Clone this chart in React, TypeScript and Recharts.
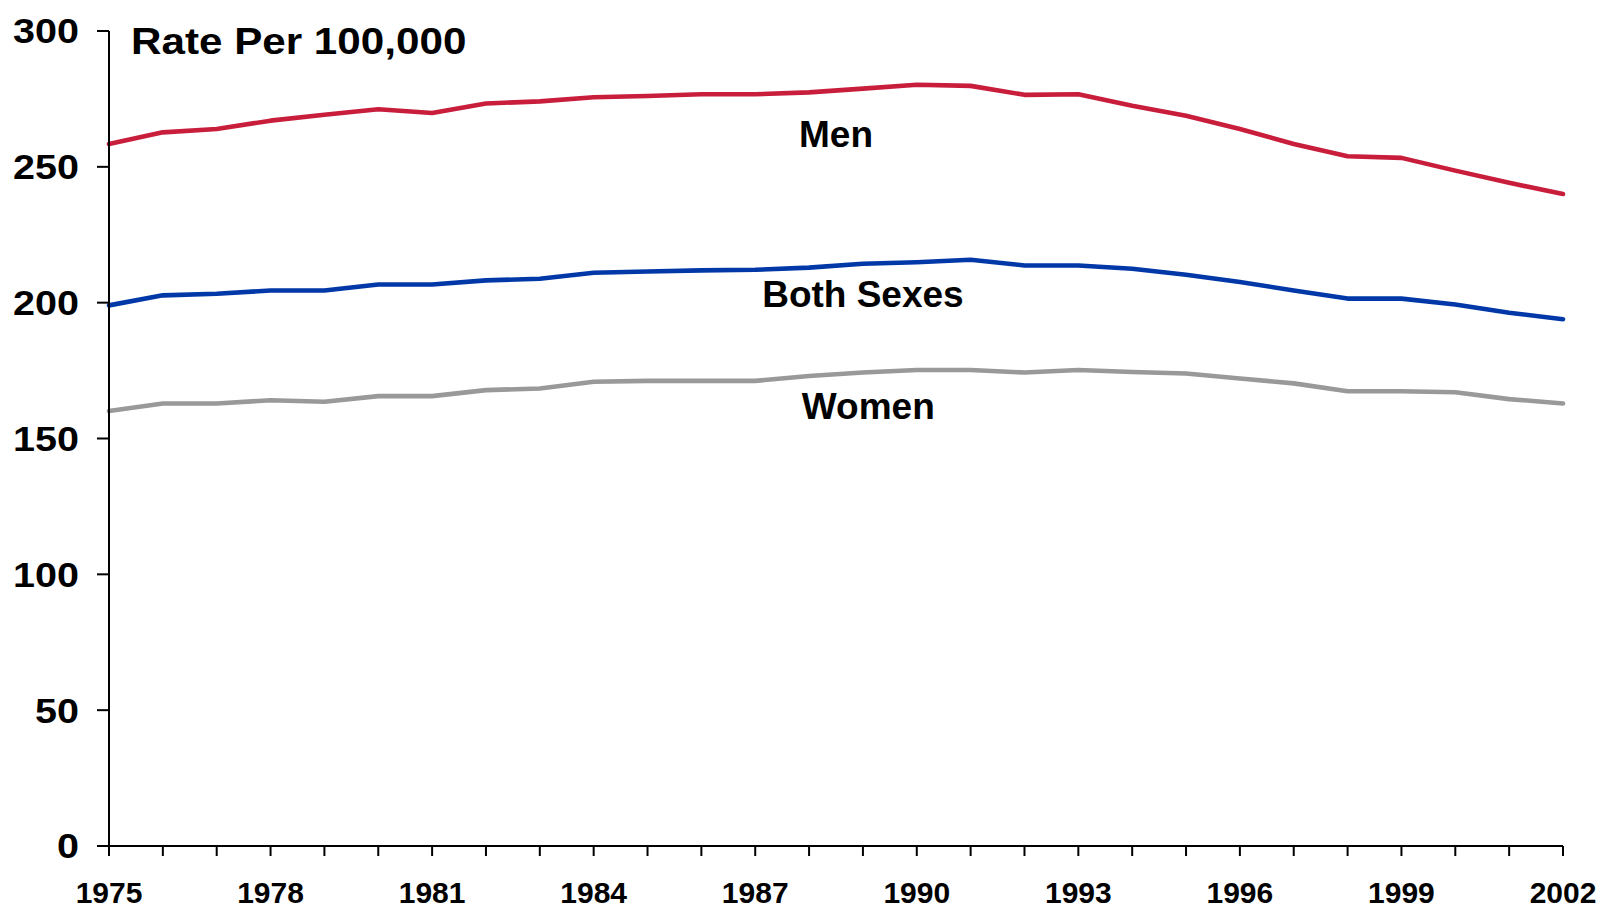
import React from 'react'
import { LineChart, Line, XAxis, YAxis, ReferenceDot } from 'recharts'

const years = [
  1975, 1976, 1977, 1978, 1979, 1980, 1981, 1982, 1983, 1984, 1985, 1986, 1987, 1988,
  1989, 1990, 1991, 1992, 1993, 1994, 1995, 1996, 1997, 1998, 1999, 2000, 2001, 2002,
]
const men = [
  258.4, 262.7, 263.9, 267.0, 269.2, 271.2, 269.8, 273.3, 274.1, 275.6, 276.1, 276.7, 276.7, 277.4,
  278.8, 280.2, 279.8, 276.5, 276.7, 272.5, 268.8, 263.9, 258.4, 253.9, 253.3, 248.6, 244.1, 240.0,
]
const both = [
  199.0, 202.7, 203.3, 204.5, 204.5, 206.7, 206.7, 208.2, 208.8, 211.0, 211.5, 211.9, 212.1, 212.9,
  214.3, 214.9, 215.8, 213.7, 213.7, 212.5, 210.3, 207.6, 204.5, 201.5, 201.5, 199.3, 196.3, 193.9,
]
const women = [
  160.1, 162.9, 162.9, 164.1, 163.5, 165.6, 165.6, 167.8, 168.4, 170.9, 171.2, 171.2, 171.2, 173.0,
  174.3, 175.2, 175.2, 174.3, 175.2, 174.5, 173.9, 172.1, 170.3, 167.4, 167.4, 167.0, 164.5, 162.9,
]
const yTicks = [0, 50, 100, 150, 200, 250, 300]
const labelStep = 3

// series name labels, placed in data coordinates
const seriesLabels = [
  { text: 'Men', year: 1988.5, value: 262.2 },
  { text: 'Both Sexes', year: 1989.0, value: 203.3 },
  { text: 'Women', year: 1989.1, value: 162.1 },
]

const data = years.map((year, i) => ({ year, men: men[i], both: both[i], women: women[i] }))

const FONT = '"Liberation Sans", Arial, Helvetica, sans-serif'

function YearTick({ x, y, payload }: any) {
  if ((payload.value - years[0]) % labelStep !== 0) return <g />
  return (
    <text x={x} y={y} dy="0.71em" textAnchor="middle" fontFamily={FONT} fontWeight="bold" fontSize={30} fill="#000">
      {payload.value}
    </text>
  )
}

// the original's value labels are drawn a little wide
function RateTick({ x, y, payload }: any) {
  return (
    <text
      transform={`translate(${x},${y}) scale(1.13,1)`}
      dy="0.355em"
      textAnchor="end"
      fontFamily={FONT}
      fontWeight="bold"
      fontSize={35}
      fill="#000"
    >
      {payload.value}
    </text>
  )
}

export default function App() {
  return (
    <div style={{ position: 'absolute', left: 0, top: 0, width: 1604, height: 910, background: '#fff' }}>
      <LineChart width={1604} height={910} data={data} margin={{ top: 31, right: 41, left: 0, bottom: 4 }}>
        <XAxis
          dataKey="year"
          type="number"
          domain={[1975, 2002]}
          ticks={years}
          interval={0}
          height={60}
          tickSize={10}
          tickMargin={26}
          tick={<YearTick />}
          axisLine={{ stroke: '#000', strokeWidth: 2 }}
          tickLine={{ stroke: '#000', strokeWidth: 2 }}
        />
        <YAxis
          domain={[0, 300]}
          ticks={yTicks}
          width={109}
          tickSize={12}
          tickMargin={18}
          tick={<RateTick />}
          axisLine={{ stroke: '#000', strokeWidth: 2 }}
          tickLine={{ stroke: '#000', strokeWidth: 2 }}
        />
        <Line dataKey="men" type="linear" stroke="#C81E3C" strokeWidth={4.6} dot={false} isAnimationActive={false} strokeLinejoin="round" strokeLinecap="round" />
        <Line dataKey="both" type="linear" stroke="#0038A8" strokeWidth={4.6} dot={false} isAnimationActive={false} strokeLinejoin="round" strokeLinecap="round" />
        <Line dataKey="women" type="linear" stroke="#999999" strokeWidth={4.6} dot={false} isAnimationActive={false} strokeLinejoin="round" strokeLinecap="round" />
        {seriesLabels.map((l) => (
          <ReferenceDot
            key={l.text}
            x={l.year}
            y={l.value}
            r={0}
            stroke="none"
            fill="none"
            label={{ value: l.text, position: 'center', fill: '#000', fontSize: 37, fontWeight: 'bold', fontFamily: FONT }}
          />
        ))}
      </LineChart>
      <div
        style={{
          position: 'absolute',
          left: 131,
          top: 19,
          fontFamily: FONT,
          fontWeight: 'bold',
          fontSize: 37,
          lineHeight: '46px',
          color: '#000',
          whiteSpace: 'nowrap',
          transform: 'scaleX(1.14)',
          transformOrigin: 'left top',
        }}
      >
        Rate Per 100,000
      </div>
    </div>
  )
}
